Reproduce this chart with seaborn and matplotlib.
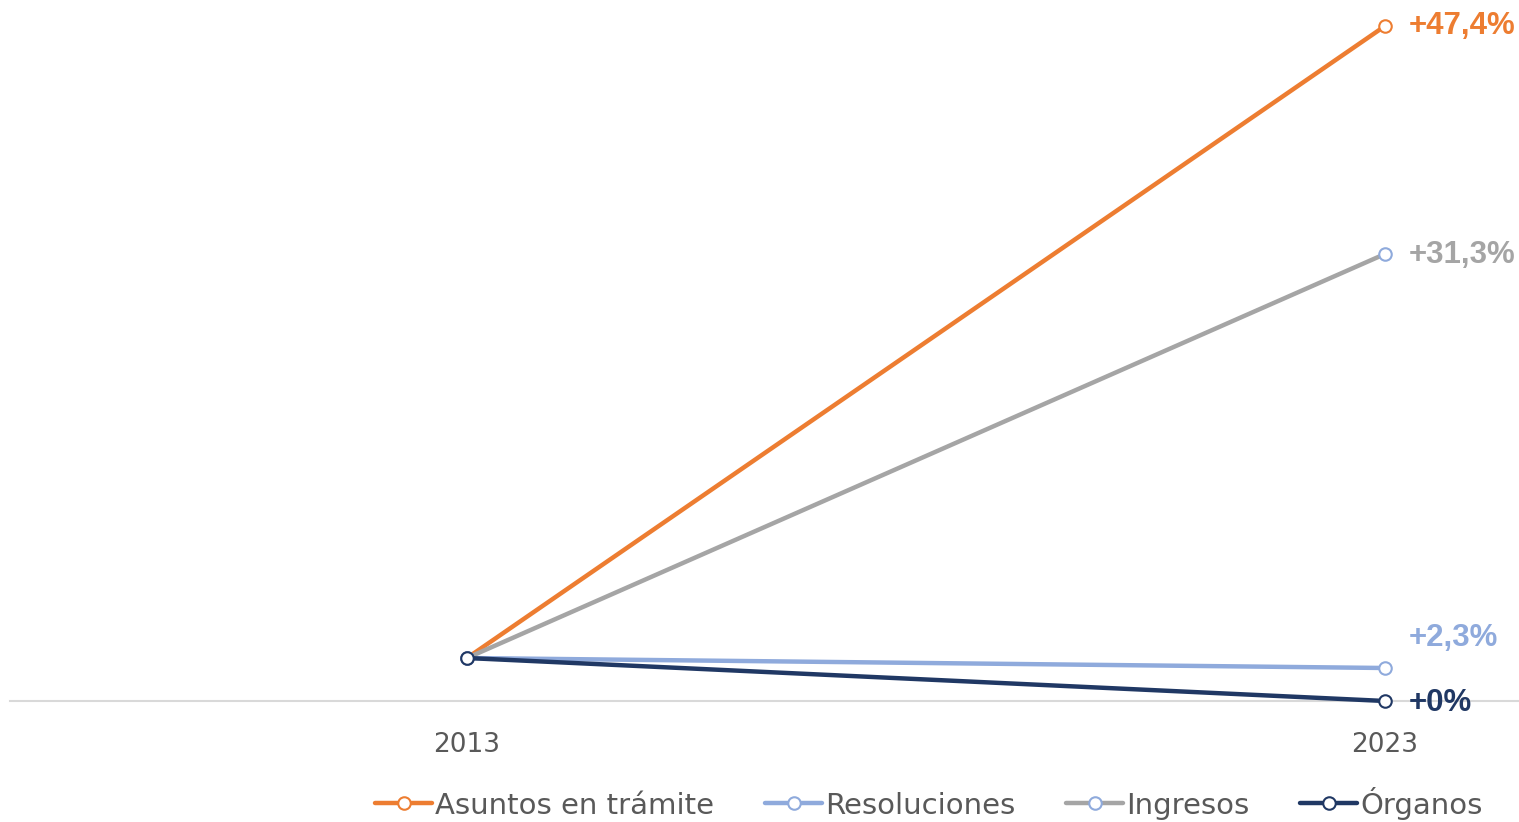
import matplotlib
matplotlib.use("Agg")
import matplotlib.pyplot as plt
import seaborn as sns
import pandas as pd
from matplotlib.lines import Line2D

sns.set_theme(style="white")
plt.rcParams['font.family'] = ['DejaVu Sans']

years = ["2013", "2023"]
series = ["Asuntos en trámite", "Resoluciones", "Ingresos", "Órganos"]
asuntos = [43, 675]
resoluciones = [43, 33]
ingresos = [43, 447]
organos = [43, 0]
labels = ["+47,4%", "+2,3%", "+31,3%", "+0%"]

line_colors = ["#ED7D31", "#8FAADC", "#A5A5A5", "#203864"]
edge_colors = ["#ED7D31", "#8FAADC", "#8FAADC", "#203864"]
label_colors = ["#ED7D31", "#8FAADC", "#A5A5A5", "#203864"]
label_offsets = [0, 30, -1, -2]

values = [asuntos, resoluciones, ingresos, organos]

fig = plt.figure(figsize=(15.19, 8.22), dpi=100)
ax = fig.add_axes([10/1519, 121/822, 1509/1519, 701/822])

handles = []
for i, (name, vals) in enumerate(zip(series, values)):
    df = pd.DataFrame({"x": [0, 1], "y": vals})
    sns.lineplot(data=df, x="x", y="y", ax=ax, color=line_colors[i], linewidth=3.2,
                 marker="o", markersize=9, markerfacecolor="white",
                 markeredgecolor=edge_colors[i], markeredgewidth=1.5,
                 clip_on=False, zorder=3 + i)
    ax.text(1 + 24/918, vals[1] + label_offsets[i], labels[i], color=label_colors[i],
            fontsize=22.5, fontweight="bold", va="center", ha="left",
            family=["Liberation Sans", "DejaVu Sans"])
    handles.append(Line2D([0], [0], color=line_colors[i], linewidth=3.2, marker="o",
                          markersize=9, markerfacecolor="white",
                          markeredgecolor=edge_colors[i], markeredgewidth=1.5))

ax.set_xlim(-457/918, 1 + 134/918)
ax.set_ylim(0, 701)
ax.set_xticks([0, 1])
ax.set_xticklabels(years, fontsize=19, color="#595959")
ax.set_yticks([])
ax.set_xlabel("")
ax.set_ylabel("")
for s in ["top", "right", "left"]:
    ax.spines[s].set_visible(False)
ax.spines["bottom"].set_color("#D9D9D9")
ax.spines["bottom"].set_linewidth(1.5)
ax.tick_params(axis="x", length=0, pad=22)

fig.legend(handles, series, loc="center", bbox_to_anchor=(929/1519, 19/822), ncol=4,
           frameon=False, fontsize=21, handlelength=1.95, handletextpad=0.1,
           columnspacing=1.75, labelcolor="#595959")

fig.savefig("out.png", dpi=100)
